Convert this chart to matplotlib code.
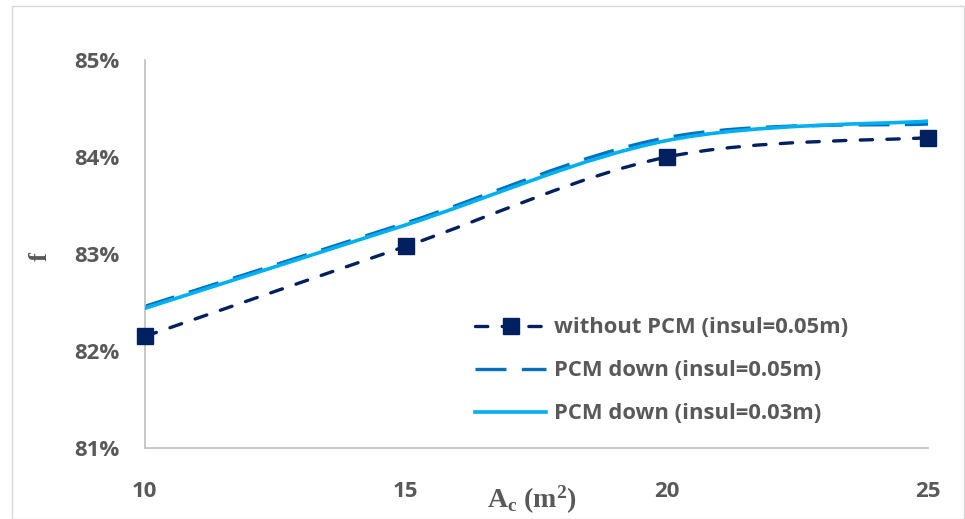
import matplotlib
matplotlib.use("Agg")
import matplotlib.pyplot as plt
from matplotlib.path import Path
from matplotlib.patches import PathPatch, Rectangle
from matplotlib.lines import Line2D
from matplotlib.ticker import FuncFormatter

plt.rcParams['mathtext.default'] = 'regular'

# ---- data ----
area = [10, 15, 20, 25]
without_pcm = [82.15, 83.08, 84.00, 84.20]
pcm_down_005 = [82.46, 83.32, 84.20, 84.34]
pcm_down_003 = [82.44, 83.30, 84.17, 84.37]
labels = ["without PCM (insul=0.05m)", "PCM down (insul=0.05m)", "PCM down (insul=0.03m)"]
yticks = [81, 82, 83, 84, 85]
xticks = [10, 15, 20, 25]

c1, c2, c3 = "#002060", "#0070C0", "#00B0F0"
gray = "#595959"
sans = ['Open Sans', 'DejaVu Sans']
serif = ['Liberation Serif', 'DejaVu Serif']

dash1 = (0, (3.7, 4.3))
dash2 = (0, (9.3, 4.6))


def smooth_path(xs, ys):
    """Excel-like smoothed line as cubic Bezier path in data coords."""
    pts = list(zip(xs, ys))
    n = len(pts)
    verts = [pts[0]]
    codes = [Path.MOVETO]
    for i in range(n - 1):
        p0 = pts[i - 1] if i > 0 else pts[i]
        p1 = pts[i]
        p2 = pts[i + 1]
        p3 = pts[i + 2] if i + 2 < n else pts[i + 1]
        cA = (p1[0] + (p2[0] - p0[0]) / 6, p1[1] + (p2[1] - p0[1]) / 6)
        cB = (p2[0] - (p3[0] - p1[0]) / 6, p2[1] - (p3[1] - p1[1]) / 6)
        verts += [cA, cB, p2]
        codes += [Path.CURVE4] * 3
    return Path(verts, codes)


fig = plt.figure(figsize=(9.65, 5.19), dpi=100)
fig.patches.append(Rectangle((12 / 965, 0.0), 1 - 13 / 965, 1 - 6 / 519,
                             transform=fig.transFigure, fill=False,
                             edgecolor="#d9d9d9", linewidth=1.0))
ax = fig.add_axes([0.150, 0.1368, 0.8117, 0.7476])

ax.add_patch(PathPatch(smooth_path(area, without_pcm), fill=False, edgecolor=c1,
                       linewidth=2.4, linestyle=dash1, capstyle='round'))
ax.plot(area, without_pcm, linestyle='none', marker='s', markersize=11.5,
        color=c1, zorder=4, clip_on=False)
ax.add_patch(PathPatch(smooth_path(area, pcm_down_005), fill=False, edgecolor=c2,
                       linewidth=2.4, linestyle=dash2))
ax.add_patch(PathPatch(smooth_path(area, pcm_down_003), fill=False, edgecolor=c3,
                       linewidth=2.6, linestyle='solid', zorder=3, capstyle='round'))

ax.set_xlim(10, 25)
ax.set_ylim(81, 85)
ax.set_xticks(xticks)
ax.set_yticks(yticks)
ax.yaxis.set_major_formatter(FuncFormatter(lambda v, p: f"{v:.0f}%"))
for s in ["top", "right"]:
    ax.spines[s].set_visible(False)
for s in ["left", "bottom"]:
    ax.spines[s].set_color("#bfbfbf")
    ax.spines[s].set_linewidth(1.2)
ax.tick_params(axis='both', length=0, labelcolor=gray, labelsize=16)
ax.tick_params(axis='x', pad=24)
ax.tick_params(axis='y', pad=18)
for lab in ax.get_xticklabels() + ax.get_yticklabels():
    lab.set_fontweight('bold')
    lab.set_family(sans)

fig.text(40 / 965, 1 - 257 / 519, "f", rotation=90, ha='center', va='center',
         family=serif, fontweight='bold', fontsize=19, color=gray)
fig.text(532 / 965, 1 - 500 / 519, r"A$_c$ (m$^2$)", ha='center', va='center',
         family=serif, fontweight='bold', fontsize=20, color=gray)

handles = [
    Line2D([], [], color=c1, linewidth=2.4, linestyle=dash1, marker='s',
           markersize=11.5, dash_capstyle='round'),
    Line2D([], [], color=c2, linewidth=2.4, linestyle=dash2),
    Line2D([], [], color=c3, linewidth=2.6),
]
leg = ax.legend(handles, labels, loc='center left', bbox_to_anchor=(0.4215, 0.199),
                frameon=False, handlelength=3.25, handletextpad=0.37, labelspacing=1.0,
                borderpad=0, borderaxespad=0,
                prop={'family': sans, 'weight': 'bold', 'size': 15.8})
for t in leg.get_texts():
    t.set_color(gray)

fig.savefig("out.png", dpi=100)
